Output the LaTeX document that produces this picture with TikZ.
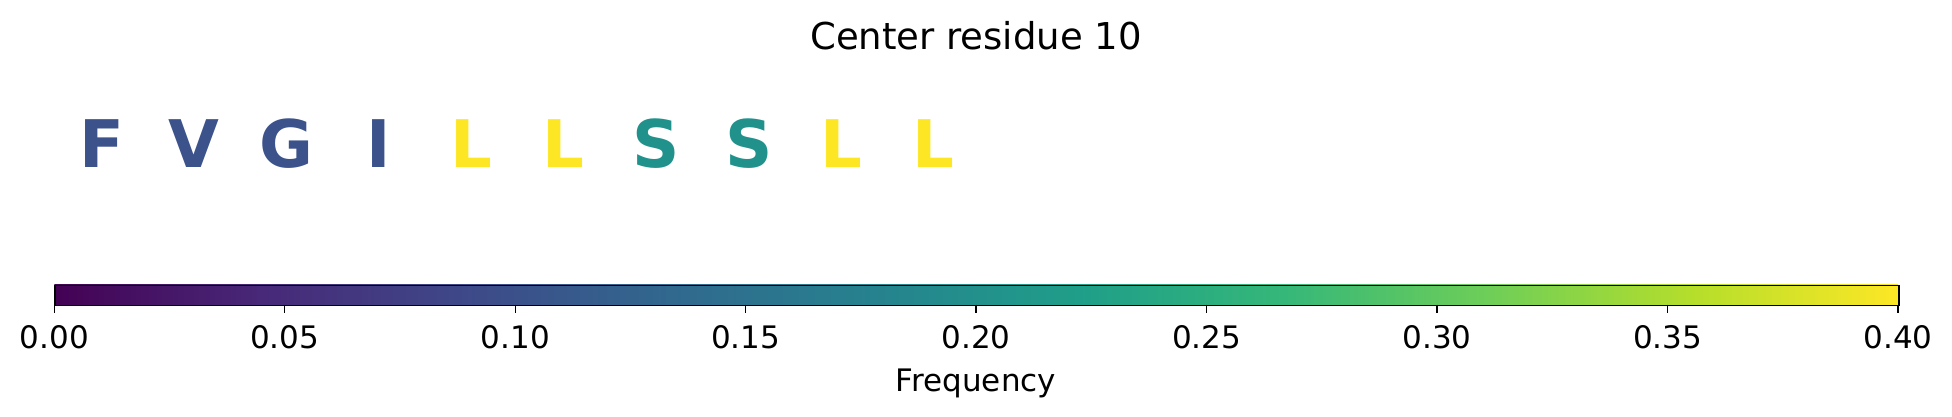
\documentclass[tikz,border=0pt]{standalone}
\usepackage{fontspec}
\setmainfont{DejaVu Sans}
\pgfdeclarehorizontalshading{viridis}{100bp}{rgb(0bp)=(0.267,0.004,0.329); rgb(25bp)=(0.267,0.004,0.329); rgb(30.556bp)=(0.282,0.157,0.471); rgb(36.111bp)=(0.243,0.286,0.537); rgb(41.667bp)=(0.192,0.408,0.557); rgb(47.222bp)=(0.149,0.510,0.557); rgb(52.778bp)=(0.122,0.620,0.537); rgb(58.333bp)=(0.208,0.718,0.475); rgb(63.889bp)=(0.431,0.808,0.345); rgb(69.444bp)=(0.710,0.871,0.169); rgb(75bp)=(0.992,0.906,0.145); rgb(100bp)=(0.992,0.906,0.145)}
\definecolor{vblue}{HTML}{3B528B}
\definecolor{vteal}{HTML}{21918C}
\definecolor{vyellow}{HTML}{FDE725}
\tikzset{
  letter/.style={anchor=base, inner sep=0pt, font=\fontsize{19.7}{20}\selectfont\bfseries},
  ticklabel/.style={anchor=base, inner sep=0pt, font=\fontsize{9.3}{10}\selectfont},
  titlelabel/.style={anchor=base, inner sep=0pt, font=\fontsize{11.1}{12}\selectfont},
  barframe/.style={draw=black, line width=0.5pt},
  tickmark/.style={draw=black, line width=0.42pt}
}
\begin{document}
\begin{tikzpicture}[x=0.3pt,y=-0.3pt]
\useasboundingbox (0,0) rectangle (1952,416);
\node[titlelabel] (title) at (976,49.3) {Center residue 10};
\foreach \ch/\col [count=\i from 0] in {F/vblue,V/vblue,G/vblue,I/vblue,L/vyellow,L/vyellow,S/vteal,S/vteal,L/vyellow,L/vyellow}
  \node[letter, text=\col] (l\i) at ({101.5+92.45*\i},167) {\ch};
\shade[shading=viridis] (54.3,284.7) rectangle (1898,304.7);
\node[barframe, inner sep=0pt, minimum width={1843.7*0.3pt}, minimum height={20*0.3pt}, anchor=north west] (bar) at (54.3,284.7) {};
\foreach \v [count=\k from 0] in {0.00,0.05,0.10,0.15,0.20,0.25,0.30,0.35,0.40} {
  \coordinate (t\k) at ({54.3+230.46*\k},304.7);
  \coordinate (te\k) at ({54.3+230.46*\k},313.3);
  \draw[tickmark] (t\k) -- (te\k);
  \node[ticklabel] (lab\k) at ({54.3+230.46*\k},348.5) {\v};
}
\node[ticklabel] (freq) at (976,391) {Frequency};
\end{tikzpicture}
\end{document}
